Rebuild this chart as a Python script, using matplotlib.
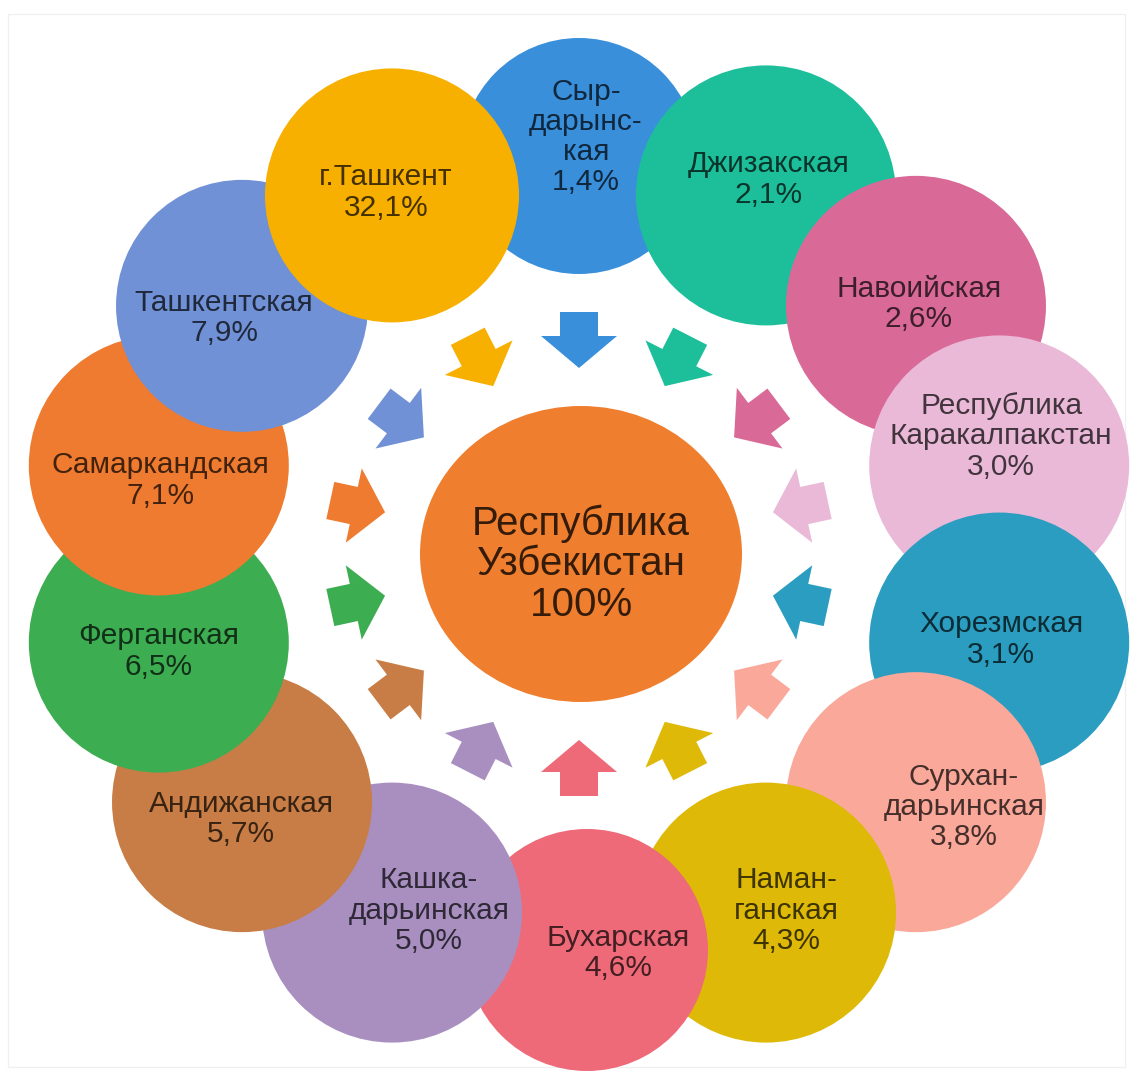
#!/usr/bin/env python3
# -*- coding: utf-8 -*-
"""Radial diagram: regional shares of the Republic of Uzbekistan."""

import numpy as np
import matplotlib

matplotlib.use("Agg")
import matplotlib.pyplot as plt
from matplotlib.colors import to_rgb
from matplotlib.patches import Circle, Ellipse, Polygon, Rectangle

# data, clockwise from the top
regions = [
    "Сыр-\nдарынс-\nкая",
    "Джизакская",
    "Навоийская",
    "Республика\nКаракалпакстан",
    "Хорезмская",
    "Сурхан-\nдарьинская",
    "Наман-\nганская",
    "Бухарская",
    "Кашка-\nдарьинская",
    "Андижанская",
    "Ферганская",
    "Самаркандская",
    "Ташкентская",
    "г.Ташкент",
]
shares = [1.4, 2.1, 2.6, 3.0, 3.1, 3.8, 4.3, 4.6, 5.0, 5.7, 6.5, 7.1, 7.9, 32.1]
total_label = "Республика\nУзбекистан"
total_share = 100

# styles
colors = [
    "#3a8fdb", "#1dbf9b", "#d96a98", "#eab9d8", "#2a9dc0", "#f9a89a", "#deb908",
    "#ee6a78", "#a88fc0", "#c77d45", "#3dad52", "#ee7b30", "#7191d6", "#f8b000",
]
center_color = "#ef7f2f"
radius = [118, 130, 130, 130, 130, 130, 130, 121, 130, 130, 130, 130, 126, 127]
circle_nudge = [(0, 0)] * 7 + [(8, -2)] + [(0, 0)] * 6
text_shift = [
    (7, -19), (3, -16), (3, -2), (2, -29), (2, -3), (48, 5), (20, -2),
    (39, 1), (37, -2), (-1, 17), (0, 9), (2, 15), (-18, 12), (-6, -3),
]

W, H = 1131, 1075
CX, CY = 579, 554
RING_X, RING_Y = 431, 398
ARROW_X, ARROW_Y = 227, 214
FONT = ["Liberation Sans", "DejaVu Sans"]


def fmt_share(value):
    return f"{value:.1f}".replace(".", ",") + "%"


def darker(color, k=0.28):
    r, g, b = to_rgb(color)
    return (r * k, g * k, b * k)


def arrow_polygon(x, y, ux, uy):
    # block arrow in local coords, pointing along +u
    length, head_len, shaft_hw, head_hw = 56, 32, 19, 38
    pts = np.array([
        [-length / 2, -shaft_hw],
        [length / 2 - head_len, -shaft_hw],
        [length / 2 - head_len, -head_hw],
        [length / 2, 0],
        [length / 2 - head_len, head_hw],
        [length / 2 - head_len, shaft_hw],
        [-length / 2, shaft_hw],
    ])
    vx, vy = -uy, ux
    return np.column_stack([x + pts[:, 0] * ux + pts[:, 1] * vx,
                            y + pts[:, 0] * uy + pts[:, 1] * vy])


fig = plt.figure(figsize=(W / 100, H / 100), dpi=100)
fig.patch.set_facecolor("white")
ax = fig.add_axes([0, 0, 1, 1])
ax.set_xlim(0, W)
ax.set_ylim(H, 0)
ax.set_aspect("equal")
ax.set_axis_off()

ax.add_patch(Rectangle((8, 14), W - 14, H - 22, fill=False, edgecolor="#f0f0f0", linewidth=1.0, zorder=0))

n = len(regions)
angles = np.deg2rad(np.arange(n) * 360.0 / n)

for i, (name, value) in enumerate(zip(regions, shares)):
    a = angles[i]
    bx = CX + RING_X * np.sin(a)
    by = CY - RING_Y * np.cos(a)
    # each circle overlaps the previous one; г.Ташкент sits on top
    ax.add_patch(Circle((bx + circle_nudge[i][0], by + circle_nudge[i][1]), radius[i],
                        facecolor=colors[i], edgecolor="none", zorder=1 + i))
    dx, dy = text_shift[i]
    ax.text(bx + dx, by + dy, f"{name}\n{fmt_share(value)}", ha="center", va="center",
            fontsize=21.5, family=FONT, color=darker(colors[i]), linespacing=1.1, zorder=30)

    # arrow pointing to the centre
    px = CX + ARROW_X * np.sin(a)
    py = CY - ARROW_Y * np.cos(a)
    ux, uy = CX - px, CY - py
    norm = np.hypot(ux, uy)
    ax.add_patch(Polygon(arrow_polygon(px, py, ux / norm, uy / norm), closed=True,
                         facecolor=colors[i], edgecolor="none", zorder=20))

ax.add_patch(Ellipse((CX + 2, CY), 322, 296, facecolor=center_color, edgecolor="none", zorder=20))
ax.text(CX + 2, CY + 10, f"{total_label}\n{total_share}%", ha="center", va="center",
        fontsize=29, family=FONT, color=darker(center_color, 0.22), linespacing=1.08, zorder=30)

fig.savefig("out.png", dpi=100, facecolor="white")
plt.close(fig)
